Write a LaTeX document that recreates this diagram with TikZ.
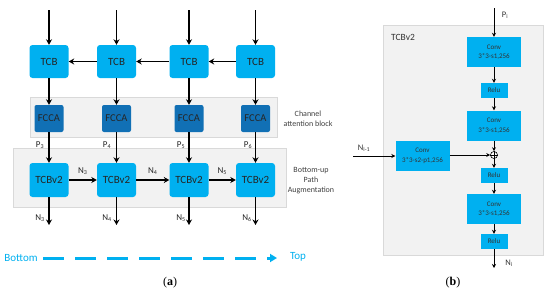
\documentclass[tikz,border=0pt]{standalone}
\usepackage{fontspec}
\setmainfont{Carlito}
\newfontfamily\capserif{Liberation Serif}
\usetikzlibrary{arrows.meta}
\definecolor{lblue}{HTML}{00B0F0}
\definecolor{dblue}{HTML}{1170B5}
\definecolor{gfill}{HTML}{F2F2F2}
\definecolor{gline}{HTML}{D9D9D9}
\definecolor{txt}{HTML}{404040}
\tikzset{
  blk/.style={fill=lblue, rounded corners=3pt, minimum width=39pt, minimum height=33pt, inner sep=0pt, font=\fontsize{11}{12}\selectfont, text=black!85},
  fbox/.style={fill=dblue, rounded corners=2pt, minimum width=29pt, minimum height=27pt, inner sep=0pt, font=\fontsize{10.5}{12}\selectfont, text=black!85},
  grp/.style={fill=gfill, draw=gline, line width=0.6pt},
  arr/.style={-{Stealth[length=5.5pt,width=6pt]}, line width=1.5pt},
  lab/.style={font=\fontsize{9}{10}\selectfont, text=black!85, inner sep=0pt},
  side/.style={font=\fontsize{8}{10}\selectfont, text=txt, align=center, inner sep=0pt},
  bbox/.style={fill=lblue, minimum width=54pt, minimum height=30pt, inner sep=0pt, align=center, font=\fontsize{7}{9.5}\selectfont, text=black!80},
  rbox/.style={fill=lblue, minimum width=27pt, minimum height=15pt, inner sep=0pt, font=\fontsize{7}{8}\selectfont, text=black!80},
  barr/.style={-{Stealth[length=4pt,width=4pt]}, line width=0.9pt},
  blab/.style={font=\fontsize{8.5}{9}\selectfont, text=black!80, inner sep=0pt},
}
\begin{document}
\begin{tikzpicture}[x=1pt,y=-1pt]
\useasboundingbox (0,0) rectangle (550,295);
% group backgrounds
\draw[grp] (30,97) rectangle (277,137);
\draw[grp] (13,148) rectangle (286,207);
\draw[grp] (383,25) rectangle (543,255);
% panel a
\foreach \i/\x in {1/49,2/116.5,3/189,4/255.5}{
  \node[blk] (t\i) at (\x,61.5) {TCB};
  \node[fbox] (f\i) at (\x,118.5) {FCCA};
  \node[blk, minimum height=34pt] (v\i) at (\x,180) {TCBv2};
  \coordinate (in\i) at (\x,10);
  \coordinate (out\i) at (\x,225);
  \draw[arr] (in\i) -- (t\i);
  \draw[arr] (t\i) -- (f\i);
  \draw[arr] (f\i) -- (v\i);
  \draw[arr] (v\i) -- (out\i);
}
\draw[arr] (t4) -- (t3);
\draw[arr] (t3) -- (t2);
\draw[arr] (t2) -- (t1);
\draw[arr] (v1) -- node[lab, above=5pt] {N\textsubscript{3}} (v2);
\draw[arr] (v2) -- node[lab, above=5pt] {N\textsubscript{4}} (v3);
\draw[arr] (v3) -- node[lab, above=5pt] {N\textsubscript{5}} (v4);
\node[lab] (p3) at (40,145) {P\textsubscript{3}};
\node[lab] (p4) at (107,145) {P\textsubscript{4}};
\node[lab] (p5) at (181,145) {P\textsubscript{5}};
\node[lab] (p6) at (248,145) {P\textsubscript{6}};
\node[lab] (n3) at (40,218) {N\textsubscript{3}};
\node[lab] (n4) at (107,218) {N\textsubscript{4}};
\node[lab] (n5) at (181,218) {N\textsubscript{5}};
\node[lab] (n6) at (247,218) {N\textsubscript{6}};
\node[side] (cab) at (308,119) {Channel\\attention block};
\node[side] (bup) at (311,181) {Bottom-up\\Path\\Augmentation};
\node[font=\fontsize{11}{12}\selectfont, text=lblue, inner sep=0pt] (bot) at (21,258) {Bottom};
\node[font=\fontsize{11}{12}\selectfont, text=lblue, inner sep=0pt] (top) at (298,257) {Top};
\draw[lblue, line width=3pt, dash pattern=on 21pt off 11pt, -{Triangle[length=7pt,width=8pt]}] (43,258) -- (277,258);
\node[font=\capserif\fontsize{12}{14}\selectfont, inner sep=0pt] (capa) at (170,283) {(\textbf{a})};
% panel b
\node[font=\fontsize{9.5}{10}\selectfont, text=black!80, inner sep=0pt, anchor=west] (ttl) at (391,37) {TCBv2};
\coordinate (pin) at (494,8);
\node[blab] (pil) at (505,15) {P\textsubscript{i}};
\node[bbox] (c1) at (494,52) {Conv\\3*3-s1,256};
\node[rbox] (r1) at (494,90.5) {Relu};
\node[bbox] (c2) at (494,125.5) {Conv\\3*3-s1,256};
\node[draw, circle, line width=0.6pt, minimum size=7pt, inner sep=0pt, fill=white] (plus) at (494,155) {};
\draw[line width=0.6pt] (plus.north) -- (plus.south) (plus.west) -- (plus.east);
\node[rbox] (r2) at (494,175.5) {Relu};
\node[bbox] (c3) at (494,209) {Conv\\3*3-s1,256};
\node[rbox] (r3) at (494,241.5) {Relu};
\coordinate (pout) at (494,268);
\node[bbox] (cl) at (422.5,156) {Conv\\3*3-s2-p1,256};
\coordinate (nin) at (353,156);
\node[blab] (nil) at (364,148) {N\textsubscript{i-1}};
\node[blab] (nol) at (509,263) {N\textsubscript{i}};
\draw[barr] (pin) -- (c1);
\draw[barr] (c1) -- (r1);
\draw[barr] (r1) -- (c2);
\draw[barr] (c2) -- (plus);
\draw[barr] (plus) -- (r2);
\draw[barr] (r2) -- (c3);
\draw[barr] (c3) -- (r3);
\draw[barr] (r3) -- (pout);
\draw[barr] (nin) -- (cl);
\draw[barr] (cl.east |- plus) -- (plus);
\node[font=\capserif\fontsize{12}{14}\selectfont, inner sep=0pt] (capb) at (453,283) {(\textbf{b})};
\end{tikzpicture}
\end{document}
